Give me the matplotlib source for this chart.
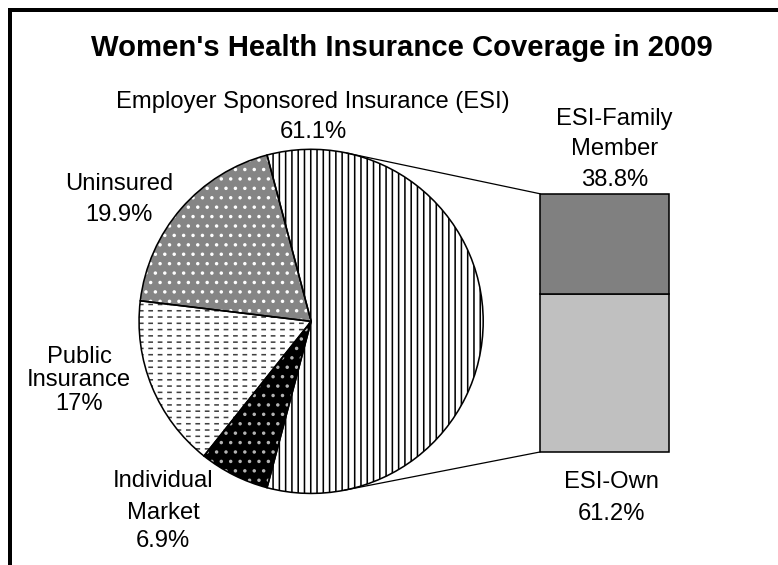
import numpy as np
import matplotlib
matplotlib.use("Agg")
import matplotlib.pyplot as plt
from matplotlib.patches import ConnectionPatch
from matplotlib.lines import Line2D

# data
title = "Women's Health Insurance Coverage in 2009"
pie_labels = ["Employer Sponsored Insurance (ESI)", "Uninsured", "Public\nInsurance", "Individual\nMarket"]
pie_values = [61.1, 19.9, 17, 6.9]
bar_labels = ["ESI-Own", "ESI-Family\nMember"]
bar_values = [61.2, 38.8]

DPI = 113
W, H = 778, 565
plt.rcParams['font.family'] = ['Liberation Sans', 'DejaVu Sans']


def fx(x):
    return x / W


def fy(y):
    return 1 - y / H


def pt(px):
    return px * 72 / DPI


fig = plt.figure(figsize=((W + 0.3) / DPI, (H + 0.3) / DPI), dpi=DPI)

# pie
cx, cy, r = 311, 321.5, 172
ax1 = fig.add_axes([fx(cx - r), fy(cy + r), 2 * r / W, 2 * r / H])
total = sum(pie_values)
start = -180 * pie_values[0] / total
faces = ['white', '#858585', 'white', 'black']
hatch_colors = ['black', 'white', '#404040', '#b4b4b4']
hatches = ['|||', '..', '---', '..']
wedges, _ = ax1.pie(pie_values, startangle=start, colors=faces, hatch=hatches, radius=1)
for w, hc in zip(wedges, hatch_colors):
    w.set_edgecolor(hc)
    w.set_linewidth(0)

# white vertical gaps to break public insurance lines into dashes
gap, _ = ax1.pie(pie_values, startangle=start, radius=1,
                 wedgeprops=dict(fill=False, linewidth=0))
for i, w in enumerate(gap):
    if i == 2 and hasattr(w, 'set_hatch_linewidth'):
        w.set_hatch('||')
        w.set_edgecolor('white')
        w.set_hatch_linewidth(3.0)
    else:
        w.set_visible(False)

ax1.pie(pie_values, startangle=start, radius=1,
        wedgeprops=dict(fill=False, edgecolor='black', linewidth=1.0))
ax1.set_xlim(-1, 1)
ax1.set_ylim(-1, 1)

# stacked bar
ax2 = fig.add_axes([fx(540), fy(452), 129 / W, 258 / H])
bottom = 0
for v, c in zip(bar_values, ['#c0c0c0', '#808080']):
    ax2.bar(0, v, bottom=bottom, width=1, color=c, edgecolor='black', linewidth=1, clip_on=False)
    bottom += v
ax2.set_xlim(-0.5, 0.5)
ax2.set_ylim(0, sum(bar_values))
ax2.axis('off')

# tangent lines from the pie to the bar corners
ax1.apply_aspect()
c = ax1.transData.transform((0, 0))
rad = ax1.transData.transform((1, 0))[0] - c[0]
for yb, sign in [(sum(bar_values), 1), (0, -1)]:
    p = ax2.transData.transform((-0.5, yb))
    d = p - c
    dist = np.hypot(d[0], d[1])
    ang = np.arctan2(d[1], d[0]) + sign * np.arccos(rad / dist)
    con = ConnectionPatch(xyA=(np.cos(ang), np.sin(ang)), coordsA=ax1.transData,
                          xyB=(-0.5, yb), coordsB=ax2.transData,
                          color='black', linewidth=0.8)
    fig.add_artist(con)

# frame (only left and top edges are inside the picture)
fig.add_artist(Line2D([fx(9.5), fx(9.5), 1.01], [-0.01, fy(10.5), fy(10.5)],
                      color='black', linewidth=pt(4), solid_joinstyle='miter'))

# texts
fs = pt(23.7)
fig.text(fx(402), fy(48), title, ha='center', va='center', fontsize=pt(29.3), fontweight='bold')

pie_text_pos = [(313, [100, 130]), (119, [182, 213]), (79, [355, 378, 402]), (163, [479, 511, 539])]
for name, v, (x, ys) in zip(pie_labels, pie_values, pie_text_pos):
    lines = name.split('\n') + [f"{v:g}%"]
    for line, y in zip(lines, ys):
        fig.text(fx(x), fy(y + 2), line, ha='center', va='center', fontsize=fs)

bar_text_pos = [(611, [480, 512]), (614, [117, 147, 178])]
for name, v, (x, ys) in zip(bar_labels, bar_values, bar_text_pos):
    lines = name.split('\n') + [f"{v:g}%"]
    for line, y in zip(lines, ys):
        fig.text(fx(x), fy(y + 2), line, ha='center', va='center', fontsize=fs)

fig.savefig("out.png", dpi=DPI)
